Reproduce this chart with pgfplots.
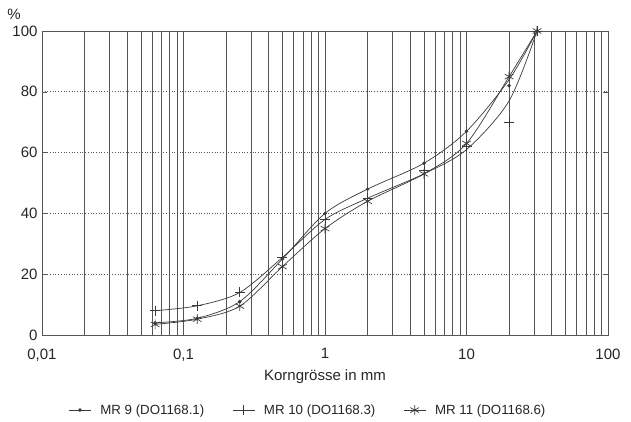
\documentclass[border=0pt]{standalone}
\usepackage{pgfplots}
\pgfplotsset{compat=1.18}
\usepackage{fontspec}
\setmainfont{Liberation Sans}
\definecolor{gridc}{HTML}{555555}
\definecolor{linec}{HTML}{3A3A3A}
\begin{document}
\begin{tikzpicture}
\begin{axis}[
  name=ax,
  scale only axis,
  width=566pt, height=304pt,
  xmode=log,
  xmin=0.01, xmax=100,
  ymin=0, ymax=100,
  clip=false,
  axis line style={draw=gridc, line width=0.6pt},
  xtick={0.01,0.1,1,10,100},
  xticklabels={0{,}01,0{,}1,1,10,100},
  ytick={0,20,40,60,80,100},
  minor xtick={0.02,0.03,0.04,0.05,0.06,0.07,0.08,0.09,0.2,0.3,0.4,0.5,0.6,0.7,0.8,0.9,2,3,4,5,6,7,8,9,20,30,40,50,60,70,80,90},
  xmajorgrids, xminorgrids,
  ymajorgrids,
  major x grid style={draw=gridc, line width=0.6pt, solid},
  minor x grid style={draw=gridc, line width=0.6pt, solid},
  major y grid style={draw=gridc, line width=0.7pt, dotted},
  x tick style={draw=none},
  y tick style={draw=gridc, line width=0.6pt},
  major tick length=5pt,
  minor tick length=0pt,
  /pgf/number format/assume math mode=true,
  tick label style={font=\fontsize{15}{17}\selectfont, text=black!85},
  xticklabel style={yshift=-10pt},
  yticklabel style={xshift=-1pt},
  xlabel={Korngrösse in mm},
  xlabel style={font=\fontsize{15}{17}\selectfont, text=black!85, yshift=-2pt},
  legend columns=3,
  legend style={draw=none, fill=none, at={(rel axis cs:0.47,-0.247)}, anchor=center,
    font=\fontsize{13.3}{15}\selectfont, text=black!85,
    /tikz/every odd column/.append style={column sep=7pt},
    /tikz/every even column/.append style={column sep=26pt}},
  legend image code/.code={\draw[sharp plot, mark repeat=2, mark phase=2, line width=0.7pt] plot coordinates {(0pt,0pt) (11pt,0pt) (22pt,0pt)};},
  every axis plot/.append style={draw=linec, line width=0.7pt},
]
% fitted curves
\addplot[smooth, no marks, forget plot] coordinates {
 (0.063,4) (0.125,5.5) (0.25,11) (0.5,25) (1,40) (2,48) (5,56.5) (10,67) (20,84) (31.5,100)};
\addplot[smooth, no marks, forget plot] coordinates {
 (0.063,8) (0.125,9.6) (0.25,14) (0.5,25.5) (1,38) (2,45) (5,53) (10,61) (20,77) (31.5,100)};
\addplot[smooth, no marks, forget plot] coordinates {
 (0.063,3.5) (0.125,5.2) (0.25,9.5) (0.5,22.5) (1,35) (2,44) (5,53) (10,63) (20,85) (31.5,100)};
% measured points
\addplot[only marks, mark=*, mark size=1.4pt, mark options={fill=linec, draw=linec}] coordinates {
 (0.063,4) (0.125,5.5) (0.25,11) (0.5,25) (1,40) (2,48) (5,56.5) (10,67) (20,82) (31.5,100)};
\addlegendentry{MR 9 (DO1168.1)}
\addplot[only marks, mark=+, mark size=5pt, mark options={draw=linec, line width=0.7pt}] coordinates {
 (0.063,8) (0.125,9.6) (0.25,14) (0.5,25.5) (1,38) (2,45) (5,54) (10,62) (20,70) (31.5,100)};
\addlegendentry{MR 10 (DO1168.3)}
\addplot[only marks, mark=asterisk, mark size=5pt, mark options={draw=linec, line width=0.7pt}] coordinates {
 (0.063,3.5) (0.125,5.2) (0.25,9.5) (0.5,22.5) (1,35) (2,44) (5,53) (10,63) (20,85) (31.5,100)};
\addlegendentry{MR 11 (DO1168.6)}
\node[font=\fontsize{15}{17}\selectfont, text=black!85] at (rel axis cs:0,1) [xshift=-28pt, yshift=17pt] {\%};
\end{axis}
\path ([xshift=-42pt, yshift=31pt]ax.north west) rectangle ([xshift=23pt, yshift=-86pt]ax.south east);
\end{tikzpicture}
\end{document}
